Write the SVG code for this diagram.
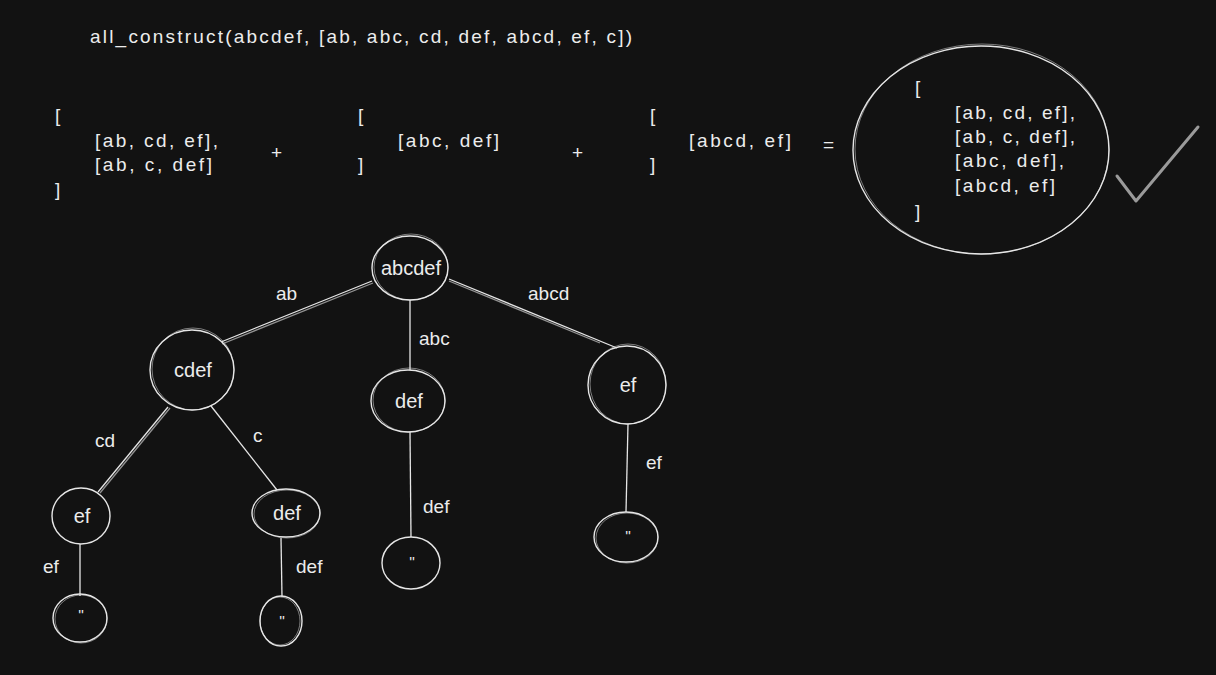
<svg xmlns="http://www.w3.org/2000/svg" width="1216" height="675" viewBox="0 0 1216 675">
<style>
.t{font-family:"Liberation Sans","Noto Sans",sans-serif;fill:#ececec;font-size:19px}
.l{font-family:"Liberation Sans","Noto Sans",sans-serif;fill:#ececec;font-size:19px}
.n{font-family:"Liberation Sans","Noto Sans",sans-serif;fill:#ececec;font-size:20px;text-anchor:middle}
.q{font-family:"Liberation Sans","Noto Sans",sans-serif;fill:#ececec;font-size:15px;text-anchor:middle}
.e{fill:none;stroke:#e6e6e6;stroke-width:1.4}
.e2{fill:none;stroke:#e6e6e6;stroke-width:0.7;opacity:0.7}
.c line{stroke:#e6e6e6;stroke-width:1.3}
</style>
<rect width="1216" height="675" fill="#121212"/>
<g id="title"><text class="t" x="90" y="43" font-size="20" textLength="542">all_construct(abcdef, [ab, abc, cd, def, abcd, ef, c])</text></g>
<g id="list1">
<text class="t" x="55" y="122">[</text>
<text class="t" x="95" y="147" textLength="123">[ab, cd, ef],</text>
<text class="t" x="95" y="171" textLength="117">[ab, c, def]</text>
<text class="t" x="55" y="196">]</text>
</g>
<text class="t" x="271" y="159" font-size="13">+</text>
<g id="list2">
<text class="t" x="358" y="122">[</text>
<text class="t" x="398" y="147" textLength="101">[abc, def]</text>
<text class="t" x="358" y="171">]</text>
</g>
<text class="t" x="572" y="159" font-size="13">+</text>
<g id="list3">
<text class="t" x="650" y="122">[</text>
<text class="t" x="689" y="147" textLength="102">[abcd, ef]</text>
<text class="t" x="650" y="171">]</text>
</g>
<text class="t" x="823" y="151" font-size="14">=</text>
<g id="result">
<ellipse class="e" cx="981" cy="150" rx="128" ry="104"/>
<ellipse class="e2" cx="982" cy="149" rx="127" ry="105"/>
<text class="t" x="915" y="94">[</text>
<text class="t" x="955" y="119" textLength="120">[ab, cd, ef],</text>
<text class="t" x="955" y="143" textLength="120">[ab, c, def],</text>
<text class="t" x="955" y="167" textLength="109">[abc, def],</text>
<text class="t" x="955" y="192" textLength="100">[abcd, ef]</text>
<text class="t" x="915" y="218">]</text>
</g>
<g id="check"><polyline points="1117,176 1136,201 1198,127" fill="none" stroke="#9a9a9a" stroke-width="3" stroke-linecap="round" stroke-linejoin="round"/></g>
<g id="connectors" class="c">
<line x1="372" y1="281" x2="221" y2="342"/>
<line x1="373" y1="283" x2="222" y2="344" opacity="0.6"/>
<line x1="410" y1="300" x2="410" y2="370"/>
<line x1="449" y1="279" x2="617" y2="348"/>
<line x1="449" y1="281" x2="600" y2="343" opacity="0.6"/>
<line x1="168" y1="407" x2="98" y2="492"/>
<line x1="170" y1="408" x2="100" y2="493" opacity="0.6"/>
<line x1="211" y1="406" x2="277" y2="490"/>
<line x1="80" y1="544" x2="80" y2="596"/>
<line x1="281" y1="538" x2="282" y2="597"/>
<line x1="410" y1="432" x2="411" y2="537"/>
<line x1="628" y1="424" x2="626" y2="512"/>
<text class="l" x="276" y="300">ab</text>
<text class="l" x="419" y="345">abc</text>
<text class="l" x="528" y="300">abcd</text>
<text class="l" x="95" y="447">cd</text>
<text class="l" x="253" y="442">c</text>
<text class="l" x="43" y="573">ef</text>
<text class="l" x="296" y="573">def</text>
<text class="l" x="423" y="513">def</text>
<text class="l" x="646" y="469">ef</text>
</g>
<g id="n-abcdef"><ellipse class="e" cx="410" cy="268" rx="38" ry="32"/><ellipse class="e2" cx="411" cy="267" rx="37" ry="33"/><text class="n" x="411" y="275">abcdef</text></g>
<g id="n-cdef"><ellipse class="e" cx="192" cy="370" rx="42" ry="40"/><ellipse class="e2" cx="193" cy="369" rx="41" ry="41"/><text class="n" x="193" y="377">cdef</text></g>
<g id="n-def1"><ellipse class="e" cx="408" cy="401" rx="37" ry="31"/><ellipse class="e2" cx="409" cy="400" rx="36" ry="32"/><text class="n" x="409" y="408">def</text></g>
<g id="n-ef1"><ellipse class="e" cx="627" cy="385" rx="39" ry="39"/><ellipse class="e2" cx="628" cy="384" rx="38" ry="40"/><text class="n" x="628" y="392">ef</text></g>
<g id="n-ef2"><ellipse class="e" cx="81" cy="516" rx="29" ry="28"/><text class="n" x="82" y="523">ef</text></g>
<g id="n-def2"><ellipse class="e" cx="286" cy="513" rx="34" ry="24"/><ellipse class="e2" cx="287" cy="514" rx="33" ry="24"/><text class="n" x="287" y="520">def</text></g>
<g id="n-leaf1"><ellipse class="e" cx="80" cy="618" rx="27" ry="24"/><ellipse class="e2" cx="81" cy="619" rx="26" ry="24"/><text class="q" x="81" y="620">''</text></g>
<g id="n-leaf2"><ellipse class="e" cx="281" cy="621" rx="21" ry="25"/><ellipse class="e2" cx="280" cy="621" rx="20" ry="24"/><text class="q" x="282" y="626">''</text></g>
<g id="n-leaf3"><ellipse class="e" cx="411" cy="563" rx="29" ry="26"/><text class="q" x="412" y="567">''</text></g>
<g id="n-leaf4"><ellipse class="e" cx="626" cy="537" rx="32" ry="25"/><ellipse class="e2" cx="627" cy="538" rx="31" ry="25"/><text class="q" x="628" y="541">''</text></g>
</svg>
